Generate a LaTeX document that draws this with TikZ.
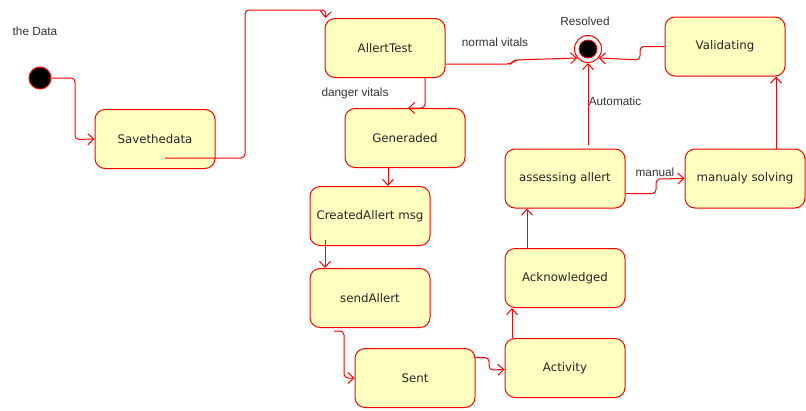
\documentclass[tikz,border=0pt]{standalone}
\usepackage{fontspec}
\setmainfont{DejaVu Sans}
\newfontfamily\lblfont{Liberation Sans}
\usetikzlibrary{arrows.meta,calc}
\definecolor{boxfill}{HTML}{FFFFC0}
\definecolor{edgered}{HTML}{FF0000}
\begin{document}
\begin{tikzpicture}[x=1pt,y=-1pt,
  state/.style={draw=edgered,fill=boxfill,rounded corners=10pt,line width=1pt,
    minimum width=120pt,minimum height=59pt,inner sep=2pt,
    font=\fontsize{11.8}{13}\selectfont,text=black!85},
  edge/.style={draw=edgered,line width=1pt,rounded corners=4pt,
    -{Straight Barb[length=6pt,width=11pt,line width=1pt]}},
  lbl/.style={font=\lblfont\fontsize{11.8}{13}\selectfont,text=black!80,inner sep=0pt},
  initstate/.style={circle,draw=edgered,fill=black,line width=1pt,minimum size=22pt,inner sep=0pt},
]
\useasboundingbox (0,0) rectangle (806,410);
\fill[white] (0,0) rectangle (806,410);

% nodes
\node[initstate] (start) at (40,78) {};
\node[lbl] (thedata) at (35,31) {the Data};
\node[state] (sav) at (155,139) {Savethedata};
\node[state] (allt) at (385,48) {AllertTest};
\node[state] (gen) at (405,138) {Generaded};
\node[state] (cam) at (370,216) {CreatedAllert msg};
\node[state] (sa) at (370,298) {sendAllert};
\node[state] (sent) at (415,378) {Sent};
\node[state] (act) at (565,368) {Activity};
\node[state] (ack) at (565,278) {Acknowledged};
\node[state] (ass) at (565,178.5) {assessing allert};
\node[state] (man) at (745,178.5) {manualy solving};
\node[state] (val) at (725,46.5) {Validating};
\node[circle,draw=edgered,fill=white,line width=1pt,minimum size=27pt,inner sep=0pt] (res) at (588,49) {};
\node[circle,draw=edgered,fill=black,line width=0.8pt,minimum size=18pt,inner sep=0pt] at (res.center) {};
\node[lbl] (reslbl) at (585,21) {Resolved};

% edges
\draw[edge] (start.east) -| (75,139.5) -- (sav.west);
\coordinate (s2) at ($(sav.center)+(10,19)$);
\draw[edge] (s2) -- (245,158) -- (245,10) -- (326,10) -- ($(allt.north west)+(1,0)$);
\coordinate (s3) at ($(allt.south)+(40,0)$);
\draw[edge] (s3) |- ($(gen.north)+(3,0)$);
\node[lbl] (danger) at (355,93) {danger vitals};
\coordinate (s4) at ($(gen.south)+(-17,0)$);
\draw[edge] (s4) -- (s4 |- cam.north);
\coordinate (s5) at ($(cam.south)+(-45,-6)$);
\draw[edge] (s5) -- (s5 |- sa.north);
\coordinate (s6) at ($(sa.south)+(-36,3)$);
\draw[edge] (s6) -- (344,331) -- (344,378) -- (sent.west);
\coordinate (s7) at ($(sent.east)+(0,-20.5)$);
\draw[edge] (s7) -- (489,357.5) -- (489,370) -- ($(act.west)+(0,1.5)$);
\coordinate (s8) at ($(act.north)+(-53,0)$);
\draw[edge] (s8) -- (s8 |- ack.south);
\coordinate (s9) at ($(ack.north)+(-38,0)$);
\draw[edge] (s9) -- (s9 |- ass.south);
\coordinate (s10) at ($(ass.east)+(0,15)$);
\draw[edge] (s10) -- (656,193.5) -- (656,179) -- (man.west);
\node[lbl] (manual) at (655,172) {manual};
\coordinate (s11) at ($(ass.north)+(23,-4)$);
\draw[edge] (s11) -- (res.south);
\node[lbl] (auto) at (615,101) {Automatic};
\coordinate (s12) at ($(man.north)+(31,0)$);
\draw[edge] (s12) -- (s12 |- val.south);
\draw[edge] (val.west) -- (640,46.5) -- (640,60) -- (res.-40);
\coordinate (s14) at ($(allt.east)+(0,16)$);
\draw[edge] (s14) -- (511,64) -- (515,60) -- (res.220);
\node[lbl] (normal) at (495,42) {normal vitals};
\end{tikzpicture}
\end{document}
